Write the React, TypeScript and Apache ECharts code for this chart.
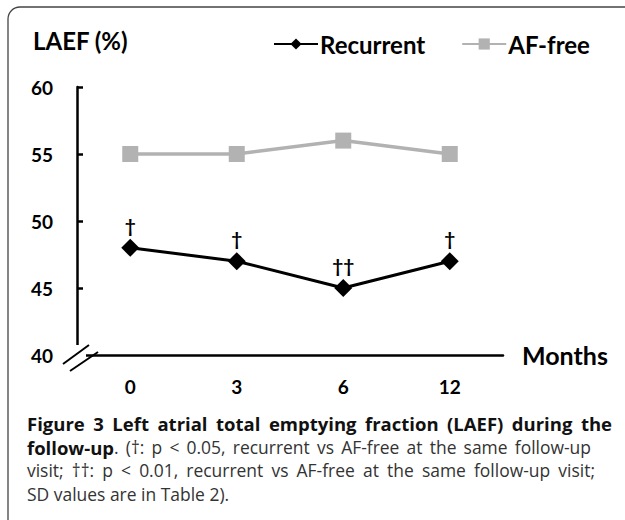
import React, { useEffect, useRef } from "react";
import * as echarts from "echarts";

const months = ["0", "3", "6", "12"];
const recurrent = [48, 47, 45, 47];
const afFree = [55, 55, 56, 55];
const significance = ["†", "†", "††", "†"];
const yTicks = { min: 40, max: 60, interval: 5 };

const titleText = "LAEF (%)";
const captionLines = [
  [{ text: "Figure 3 Left atrial total emptying fraction (LAEF) during the", bold: true }],
  [
    { text: "follow-up", bold: true },
    { text: ". (†: p < 0.05, recurrent vs AF-free at the same follow-up", bold: false },
  ],
  [{ text: "visit; ††: p < 0.01, recurrent vs AF-free at the same follow-up visit;", bold: false }],
  [{ text: "SD values are in Table 2).", bold: false }],
];
// right edge of each justified caption line (null = not justified)
const captionRight = [612, 591, 595, null];
const captionY = [423, 447, 470, 494];

const chartFont = "Lato, 'Open Sans', sans-serif";
const capFont = "'Open Sans', 'Noto Sans', sans-serif";

function buildCaption(): any[] {
  const canvas = document.createElement("canvas");
  const ctx = canvas.getContext("2d")!;
  const boldSize = 18.5;
  const normSize = 18;
  const sb = 1;
  const sn = 0.97;
  const measure = (t: string, bold: boolean) => {
    ctx.font = `${bold ? "bold " : ""}${bold ? boldSize : normSize}px 'Open Sans'`;
    return ctx.measureText(t).width;
  };
  const els: any[] = [];
  const left = 27;
  const mk = (x: number, y: number, p: { text: string; bold: boolean }) => ({
    type: "text",
    x,
    y,
    scaleX: p.bold ? sb : sn,
    z: 100,
    style: {
      text: p.text,
      fontFamily: capFont,
      fontWeight: p.bold ? "bold" : "normal",
      fontSize: p.bold ? boldSize : normSize,
      fill: p.bold ? "#111" : "#333",
      verticalAlign: "middle",
      align: "left",
    },
  });
  captionLines.forEach((runs, li) => {
    const y = captionY[li];
    const right = captionRight[li];
    if (right == null) {
      let x = left;
      runs.forEach((run) => {
        els.push(mk(x, y, run));
        x += measure(run.text, run.bold) * (run.bold ? sb : sn);
      });
      return;
    }
    const words: { text: string; bold: boolean }[][] = [];
    let cur: { text: string; bold: boolean }[] = [];
    runs.forEach((run) => {
      run.text.split(" ").forEach((p, pi) => {
        if (pi > 0) {
          if (cur.length) words.push(cur);
          cur = [];
        }
        if (p) cur.push({ text: p, bold: run.bold });
      });
    });
    if (cur.length) words.push(cur);
    const pieceW = (p: { text: string; bold: boolean }) => measure(p.text, p.bold) * (p.bold ? sb : sn);
    const wordW = words.map((w) => w.reduce((s, p) => s + pieceW(p), 0));
    const total = wordW.reduce((a, b) => a + b, 0);
    const isBold = runs[runs.length - 1].bold;
    const spaceW = measure(" ", isBold) * (isBold ? sb : sn);
    const gap = Math.max(spaceW * 0.8, (right - left - total) / (words.length - 1));
    let x = left;
    words.forEach((w, wi) => {
      let px = x;
      w.forEach((p) => {
        els.push(mk(px, y, p));
        px += pieceW(p);
      });
      x += wordW[wi] + gap;
    });
  });
  return els;
}

export default function App() {
  const ref = useRef<HTMLDivElement>(null);
  useEffect(() => {
    if (!ref.current) return;
    const chart = echarts.init(ref.current, null, { renderer: "svg" });
    const option: any = {
      animation: false,
      backgroundColor: "#ffffff",
      grid: { left: 77, right: 122, top: 87, bottom: 165 },
      legend: {
        top: 27,
        left: 268,
        itemWidth: 44,
        itemHeight: 14,
        itemGap: 36,
        textStyle: { fontFamily: chartFont, fontWeight: "bold", fontSize: 24, color: "#000", padding: [0, 0, 0, -3] },
        data: ["Recurrent", "AF-free"],
      },
      xAxis: {
        type: "category",
        data: months,
        boundaryGap: true,
        name: "Months",
        nameLocation: "end",
        nameGap: 19,
        nameTextStyle: { fontFamily: chartFont, fontWeight: "bold", fontSize: 25, color: "#000" },
        axisLine: { lineStyle: { color: "#000", width: 2.5 } },
        axisTick: { show: false },
        axisLabel: { fontFamily: chartFont, fontWeight: "bold", fontSize: 19, color: "#000", margin: 22 },
      },
      yAxis: {
        type: "value",
        min: yTicks.min,
        max: yTicks.max,
        interval: yTicks.interval,
        splitLine: { show: false },
        axisLine: { show: true, lineStyle: { color: "#000", width: 2.5 } },
        axisTick: { show: true, inside: true, length: 6, lineStyle: { color: "#000", width: 2.5 } },
        axisLabel: { fontFamily: chartFont, fontWeight: "bold", fontSize: 19, color: "#000", margin: 24 },
      },
      series: [
        {
          name: "Recurrent",
          type: "line",
          data: recurrent,
          symbol: "diamond",
          symbolSize: 18,
          itemStyle: { color: "#000" },
          lineStyle: { color: "#000", width: 3 },
          label: {
            show: true,
            position: "top",
            distance: 4,
            formatter: (p: any) => significance[p.dataIndex],
            fontFamily: chartFont,
            fontWeight: "bold",
            fontSize: 19,
            color: "#000",
          },
          z: 3,
        },
        {
          name: "AF-free",
          type: "line",
          data: afFree,
          symbol: "rect",
          symbolSize: 16,
          itemStyle: { color: "#b2b2b2" },
          lineStyle: { color: "#b2b2b2", width: 3.5 },
          z: 2,
        },
      ],
      graphic: [
        {
          type: "rect",
          z: 100,
          shape: { x: 8, y: 7, width: 640, height: 540, r: 12 },
          style: { fill: "none", stroke: "#444", lineWidth: 1.3 },
          silent: true,
        },
        {
          type: "text",
          x: 33,
          y: 40,
          z: 100,
          style: {
            text: titleText,
            fontFamily: chartFont,
            fontWeight: "bold",
            fontSize: 24,
            fill: "#000",
            verticalAlign: "middle",
          },
        },
        {
          type: "rect",
          z: 100,
          shape: { x: 74, y: 345, width: 12, height: 13 },
          style: { fill: "#fff" },
        },
        {
          type: "line",
          z: 101,
          shape: { x1: 63, y1: 364, x2: 89, y2: 345 },
          style: { stroke: "#000", lineWidth: 2 },
        },
        {
          type: "line",
          z: 101,
          shape: { x1: 70, y1: 371, x2: 98, y2: 352 },
          style: { stroke: "#000", lineWidth: 2 },
        },
        ...buildCaption(),
      ],
    };
    chart.setOption(option);
    return () => chart.dispose();
  }, []);
  return (
    <div
      ref={ref}
      style={{ position: "fixed", left: 0, top: 0, width: 625, height: 520 }}
    />
  );
}
